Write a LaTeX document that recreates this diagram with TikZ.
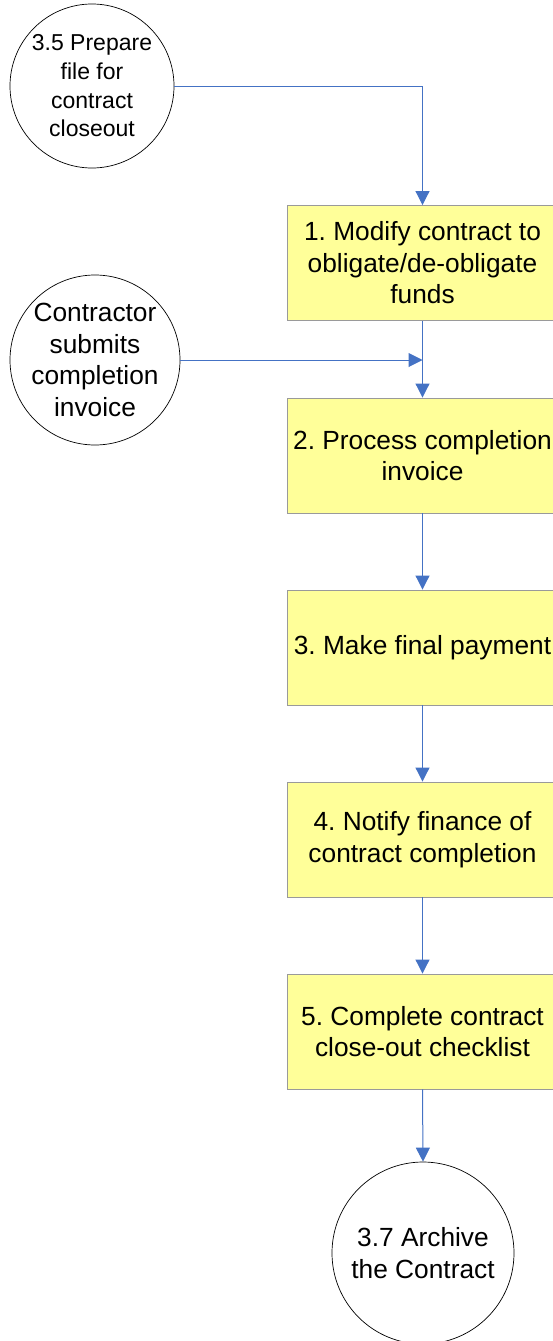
\documentclass[tikz,border=0pt]{standalone}
\usepackage{fontspec}
\setmainfont{Liberation Sans}
\usetikzlibrary{arrows.meta}
\frenchspacing
\definecolor{flowblue}{HTML}{4472C4}
\definecolor{stepfill}{HTML}{FFFF99}
\definecolor{stepline}{HTML}{9A9A9A}
\tikzset{
  stepbox/.style={draw=stepline, line width=0.9pt, fill=stepfill, rectangle,
    minimum width=271pt, minimum height=115pt, inner sep=0pt, align=center,
    font=\fontsize{26.3pt}{31.5pt}\selectfont},
  endpoint/.style={draw=black, line width=0.7pt, fill=white, circle, inner sep=0pt,
    align=center, font=\fontsize{26.3pt}{31.5pt}\selectfont},
  flow/.style={draw=flowblue, line width=1pt,
    -{Triangle[width=14pt,length=14pt]}},
}
\begin{document}
\begin{tikzpicture}[x=1pt,y=-1pt]
\useasboundingbox (0,0) rectangle (553,1341);
\clip (0,0) rectangle (553,1341);

% off-page connectors
\node[endpoint, minimum size=164pt, font=\fontsize{23pt}{28.7pt}\selectfont]
  (prep) at (92,86) {3.5 Prepare\\file for\\contract\\closeout};
\node[endpoint, minimum size=170pt]
  (inv) at (95,360) {Contractor\\submits\\completion\\invoice};
\node[endpoint, minimum size=182pt]
  (arch) at (423,1253) {3.7 Archive\\the Contract};

% process steps
\node[stepbox] (s1) at (422.5,263)    {1. Modify contract to\\obligate/de-obligate\\funds};
\node[stepbox] (s2) at (422.5,455.5)  {2. Process completion\\invoice};
\node[stepbox] (s3) at (422.5,647.5)  {3. Make final payment};
\node[stepbox] (s4) at (422.5,839.5)  {4. Notify finance of\\contract completion};
\node[stepbox] (s5) at (422.5,1031.5) {5. Complete contract\\close-out checklist};

% join point of the invoice flow on the main line
\coordinate (join) at (s1.south |- inv.east);

% connectors
\draw[flow] (prep.east) -| (s1.north);
\draw[flow] (s1.south) -- (s2.north);
\draw[flow] (inv.east) -- (join);
\draw[flow] (s2.south) -- (s3.north);
\draw[flow] (s3.south) -- (s4.north);
\draw[flow] (s4.south) -- (s5.north);
\draw[flow] (s5.south) -- (arch.north);
\end{tikzpicture}
\end{document}
